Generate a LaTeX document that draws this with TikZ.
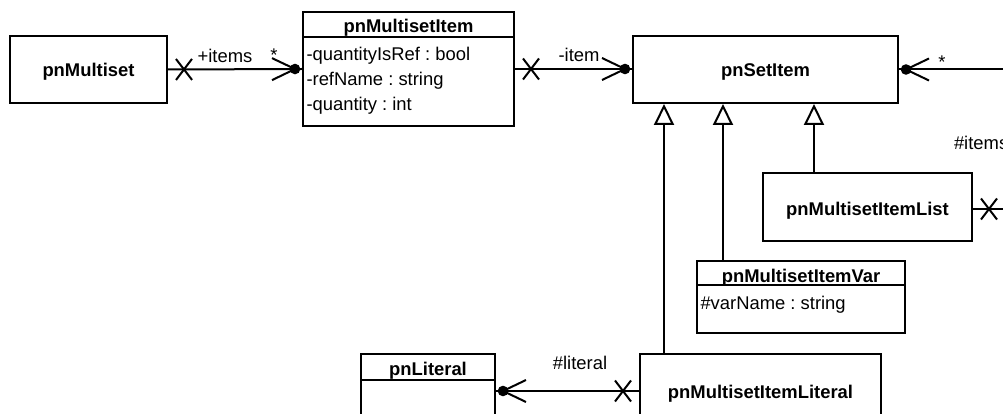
\documentclass[tikz,border=0pt]{standalone}
\usepackage{fontspec}
\setmainfont{Liberation Sans}
\usetikzlibrary{arrows.meta,decorations.markings}

\newcommand{\diagfont}{\fontsize{18.4}{22}\selectfont}
\frenchspacing

\tikzset{
  % class box outline
  cls/.style={draw, fill=white, inner sep=0pt},
  % bold class name, placed by its baseline
  cname/.style={anchor=base, inner sep=0pt, font=\diagfont\bfseries},
  % attribute line inside a compartment
  attr/.style={anchor=base west, inner sep=0pt},
  % association end label
  lbl/.style={anchor=base, inner sep=0pt},
  % navigability cross near the start of an association
  crossstart/.style={postaction={decorate, decoration={markings,
      mark=at position 16pt with {\draw (-8,-10.5) -- (8,10.5) (-8,10.5) -- (8,-10.5);}}}},
  % filled dot with an open barb at the end of an association
  dotend/.style={postaction={decorate, decoration={markings,
      mark=at position -7pt with {\fill (0,0) circle (5.3pt); \draw (-23,-11) -- (0,0) -- (-23,11);}}}},
  % generalisation arrow
  inherit/.style={-{Triangle[open,length=21pt,width=20pt]}},
}

\begin{document}
\begin{tikzpicture}[x=1pt, y=-1pt, line width=2pt, font=\diagfont]
  \useasboundingbox (0,0) rectangle (1003,414);
  \clip (0,0) rectangle (1003,414);

  % plain classes
  \node[cls, minimum width=157pt, minimum height=67pt] (ms) at (88.5,69.5) {};
  \node[cname] at ([yshift=-7pt]ms.center) {pnMultiset};

  \node[cls, minimum width=265pt, minimum height=67pt] (si) at (765.5,69.5) {};
  \node[cname] at ([yshift=-7pt]si.center) {pnSetItem};

  \node[cls, minimum width=209pt, minimum height=68pt] (ls) at (867.5,207) {};
  \node[cname] at ([yshift=-8pt]ls.center) {pnMultisetItemList};

  \node[cls, minimum width=241pt, minimum height=74pt] (lit) at (760.5,391) {};
  \node[cname] at ([yshift=-7pt]lit.center) {pnMultisetItemLiteral};

  % classes with an attribute compartment
  \node[cls, minimum width=211pt, minimum height=114pt] (mi) at (408.5,69) {};
  \draw ([yshift=-26pt]mi.north west) -- ([yshift=-26pt]mi.north east);
  \node[cname] at ([yshift=-21.5pt]mi.north) {pnMultisetItem};
  \node[attr] at ([xshift=3.5pt,yshift=-49.5pt]mi.north west) {-quantityIsRef : bool};
  \node[attr] at ([xshift=3.5pt,yshift=-74.5pt]mi.north west) {-refName : string};
  \node[attr] at ([xshift=3.5pt,yshift=-99.5pt]mi.north west) {-quantity : int};

  \node[cls, minimum width=208pt, minimum height=72pt] (var) at (801,297) {};
  \draw ([yshift=-25pt]var.north west) -- ([yshift=-25pt]var.north east);
  \node[cname] at ([yshift=-22pt]var.north) {pnMultisetItemVar};
  \node[attr] at ([xshift=3.5pt,yshift=-49.5pt]var.north west) {\#varName : string};

  \node[cls, minimum width=134pt, minimum height=74pt] (pl) at (428,391) {};
  \draw ([yshift=-27pt]pl.north west) -- ([yshift=-27pt]pl.north east);
  \node[cname] at ([yshift=-22pt]pl.north) {pnLiteral};

  % associations
  \draw[crossstart, dotend] (ms.east) -- (mi.west);
  \node[lbl] at (225,63) {+items};
  \node[lbl] at (274,62) {*};

  \draw[crossstart, dotend] (mi.east) -- (mi.east -| si.west);
  \node[lbl] at (579,62) {-item};

  \coordinate (e1) at (1012,69.5);
  \draw[dotend] (e1) -- (si.east);
  \node[lbl] at (942,69) {*};

  \coordinate (e2) at (1012,209);
  \draw[crossstart] ([yshift=-2pt]ls.east) -- (e2);
  \node[attr] at (953,150) {\#items};

  \draw[crossstart, dotend] (lit.west) -- (pl.east);
  \node[lbl] at (580,369) {\#literal};

  % generalisations
  \draw[inherit] ([xshift=25pt]lit.north west) -- ([xshift=25pt]lit.north west |- si.south);
  \draw[inherit] ([xshift=27pt]var.north west) -- ([xshift=27pt]var.north west |- si.south);
  \draw[inherit] ([xshift=52pt]ls.north west) -- ([xshift=52pt]ls.north west |- si.south);
\end{tikzpicture}
\end{document}
